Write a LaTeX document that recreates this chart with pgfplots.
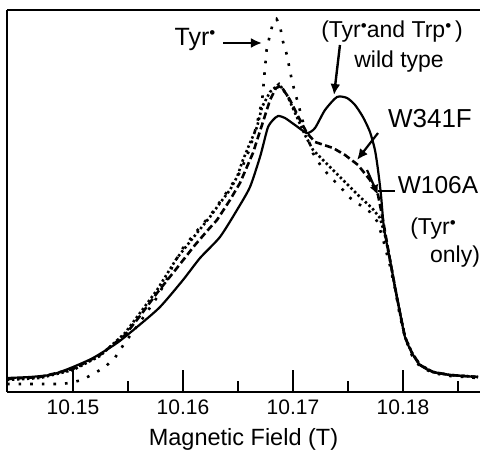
\documentclass[border=0pt]{standalone}
\usepackage{pgfplots}
\pgfplotsset{compat=1.18}
\usepackage{fontspec}
\setmainfont{Liberation Sans}
\usetikzlibrary{arrows.meta}
\newcommand{\rad}{\raisebox{0.3em}{\fontsize{17}{17}\selectfont\textbullet}}

\begin{document}
\begin{tikzpicture}
\useasboundingbox (0,0) rectangle (480pt,452pt);
\begin{axis}[
  at={(7pt,60pt)}, anchor=south west,
  scale only axis, width=473pt, height=382pt,
  xmin=10.144, xmax=10.187, ymin=0, ymax=382,
  axis x line*=box, axis y line*=left,
  axis line style={line width=2.2pt, -},
  /pgf/number format/assume math mode=true,
  xtick={10.15,10.16,10.17,10.18},
  xticklabels={10.15,10.16,10.17,10.18},
  minor xtick={10.155,10.165,10.175,10.185},
  ytick=\empty,
  xtick pos=bottom, tick align=inside,
  major tick length=22pt, minor tick length=11pt,
  every tick/.style={line width=1.5pt, black},
  tick label style={font=\fontsize{21}{23}\selectfont},
  xticklabel style={yshift=-4pt},
  xlabel={Magnetic Field (T)},
  label style={font=\fontsize{23.5}{26}\selectfont},
  xlabel style={yshift=-7pt},
  clip=true,
]
% Tyr* (sparse dots)
\addplot[black, line width=2.6pt, dash pattern=on 2.6pt off 9pt] coordinates {
(10.1440,8) (10.1488,8) (10.1497,9) (10.1508,12) (10.1520,19) (10.1529,25)
(10.1538,34) (10.1547,49) (10.1561,70) (10.1576,94) (10.1585,112) (10.1591,127)
(10.1600,144) (10.1611,159) (10.1625,177) (10.1638,197) (10.1652,220) (10.1661,244)
(10.1667,267) (10.1672,292) (10.1674,317) (10.1676,342) (10.1679,357) (10.1682,370)
(10.1685,373) (10.1688,367) (10.1691,350) (10.1695,335) (10.1697,322) (10.1700,307)
(10.1705,287) (10.1711,262) (10.1718,239) (10.1726,225) (10.1734,215) (10.1743,205)
(10.1752,194) (10.1761,187) (10.1770,180) (10.1777,170) (10.1782,152) (10.1788,127)
(10.1793,102) (10.1797,77) (10.1802,54) (10.1808,37) (10.1815,26) (10.1827,19)
(10.1843,16) (10.1868,14)
};
% W106A (dense dots)
\addplot[black, line width=2.6pt, dash pattern=on 2.4pt off 2.6pt] coordinates {
(10.1440,12) (10.1470,14) (10.1500,22) (10.15245,36) (10.15473,59) (10.15609,79)
(10.15764,102) (10.15945,134) (10.16127,159) (10.16245,175) (10.16336,189)
(10.16427,202) (10.16491,215) (10.16545,232) (10.16609,249) (10.16673,265)
(10.16718,285) (10.16791,300) (10.16873,308) (10.16945,297) (10.17027,277)
(10.17109,257) (10.17182,242) (10.17336,225) (10.17473,210) (10.17609,195)
(10.17718,184) (10.17791,174) (10.17836,157) (10.17882,132) (10.17927,105)
(10.17973,79) (10.18018,55) (10.18082,39) (10.18155,27) (10.18273,20)
(10.18427,17) (10.18682,15)
};
% W341F (dashed)
\addplot[black, line width=2.6pt, dash pattern=on 7pt off 3.5pt] coordinates {
(10.1440,13) (10.1470,15) (10.1500,23) (10.15245,37) (10.15473,57) (10.15609,76)
(10.15764,99) (10.15945,124) (10.16109,147) (10.16227,162) (10.16309,172)
(10.16427,192) (10.16518,209) (10.16636,239) (10.16718,267) (10.16791,292)
(10.16845,304) (10.16891,306) (10.16973,292) (10.17064,272) (10.17127,259)
(10.17200,250) (10.17364,244) (10.17473,237) (10.17591,227) (10.17700,212)
(10.17773,197) (10.17818,172) (10.17882,132) (10.17927,105) (10.17973,79)
(10.18018,55) (10.18082,39) (10.18155,27) (10.18273,20) (10.18427,17) (10.18682,15)
};
% wild type (solid)
\addplot[black, line width=2.2pt, smooth, tension=0.4] coordinates {
(10.1440,14) (10.14609,15) (10.14791,17) (10.14882,20) (10.15000,25) (10.15182,34)
(10.15400,49) (10.15582,65) (10.15791,85) (10.16000,112) (10.16155,134)
(10.16336,155) (10.16491,182) (10.16609,205) (10.16700,235) (10.16736,250)
(10.16773,265) (10.16818,272) (10.16864,276) (10.16927,274) (10.17018,267)
(10.17127,259) (10.17200,264) (10.17291,282) (10.17400,295) (10.17491,294)
(10.17564,287) (10.17636,275) (10.17700,260) (10.17745,242) (10.17773,222)
(10.17800,197) (10.17827,164) (10.17882,132) (10.17927,105) (10.17973,79)
(10.18018,55) (10.18082,39) (10.18155,27) (10.18273,20) (10.18427,17) (10.18682,15)
};
% annotations
\node[font=\fontsize{25}{28}\selectfont] at (axis cs:10.16109,352) {Tyr\rad};
\draw[line width=2.4pt, -{Latex[length=11pt,width=10pt]}] (axis cs:10.16364,349) -- (axis cs:10.16718,349);
\node[font=\fontsize{23}{26}\selectfont] at (axis cs:10.17900,360) {(Tyr\rad and Trp\rad\,)};
\node[font=\fontsize{23}{26}\selectfont] at (axis cs:10.17964,330) {wild type};
\draw[line width=2.4pt, -{Latex[length=11pt,width=10pt]}] (axis cs:10.17427,347) -- (axis cs:10.17373,297);
\node[font=\fontsize{26}{29}\selectfont] at (axis cs:10.18245,273) {W341F};
\draw[line width=2.2pt, -{Latex[length=11pt,width=10pt]}] (axis cs:10.17773,259) -- (axis cs:10.17582,232);
\node[font=\fontsize{24.5}{27}\selectfont] at (axis cs:10.18318,207) {W106A};
\draw[line width=2.2pt, -{Latex[length=10pt,width=9pt]}] (axis cs:10.17673,222) -- (axis cs:10.17773,197);
\draw[line width=2.2pt] (axis cs:10.17773,201) -- (axis cs:10.17927,201);
\node[font=\fontsize{23}{26}\selectfont] at (axis cs:10.18273,163) {(Tyr\rad};
\node[font=\fontsize{23}{26}\selectfont] at (axis cs:10.18473,135) {only)};
\end{axis}
\end{tikzpicture}
\end{document}
